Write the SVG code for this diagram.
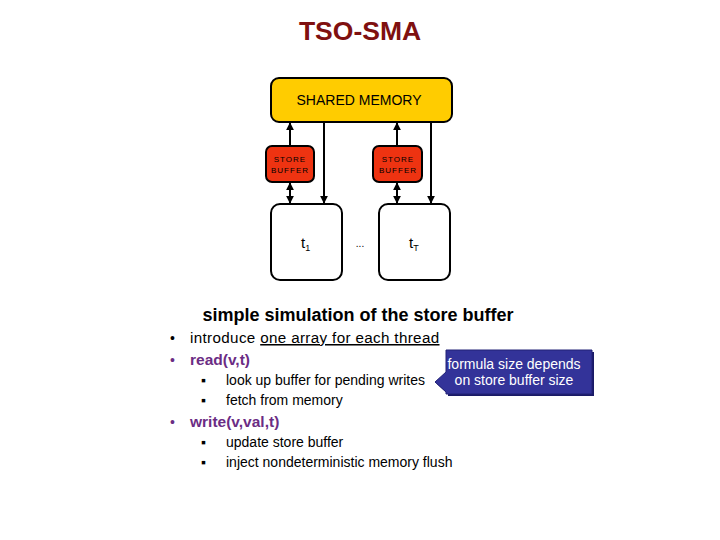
<svg xmlns="http://www.w3.org/2000/svg" width="720" height="540" viewBox="0 0 720 540">
<style>
.t{font-family:"Liberation Sans",Arial,sans-serif}
.box{stroke:#000;stroke-width:2}
.sb{font-family:"Liberation Sans",Arial,sans-serif;font-size:8px;letter-spacing:1px;fill:#000}
.ln{stroke:#000;stroke-width:2;fill:none}
.body{font-family:"Liberation Sans",Arial,sans-serif;font-size:15.2px;letter-spacing:0.35px;fill:#000}
.sub{font-family:"Liberation Sans",Arial,sans-serif;font-size:14px;fill:#000}
.pur{font-family:"Liberation Sans",Arial,sans-serif;font-size:15.5px;font-weight:bold;fill:#6B2C84}
.bul{font-family:"Liberation Sans",Arial,sans-serif;font-size:14px;fill:#6B2C84}
</style>
<defs>
<marker id="ah" viewBox="0 0 10 10" refX="9" refY="5" markerWidth="4" markerHeight="4" orient="auto-start-reverse">
<path d="M0,0 L10,5 L0,10 z" fill="#000"/>
</marker>
</defs>
<rect width="720" height="540" fill="#fff"/>
<text class="t" x="360" y="40" text-anchor="middle" font-size="26.5" font-weight="bold" fill="#7F1010">TSO-SMA</text>

<g id="shared-memory">
<rect class="box" x="271" y="78" width="181" height="44" rx="8" fill="#FFCC00"/>
<text class="t" x="359" y="105" text-anchor="middle" font-size="14" fill="#000">SHARED MEMORY</text>
</g>
<g id="store-buffer-1">
<rect class="box" x="266" y="146" width="48" height="36" rx="6" fill="#EE3311"/>
<text class="sb" x="290" y="162" text-anchor="middle">STORE</text>
<text class="sb" x="290" y="173" text-anchor="middle">BUFFER</text>
</g>
<g id="store-buffer-2">
<rect class="box" x="373" y="146" width="49" height="36" rx="6" fill="#EE3311"/>
<text class="sb" x="398" y="162" text-anchor="middle">STORE</text>
<text class="sb" x="398" y="173" text-anchor="middle">BUFFER</text>
</g>
<g id="thread-1">
<rect class="box" x="271" y="204" width="71" height="76" rx="9" fill="#fff"/>
<text class="t" x="301" y="248" font-size="15" fill="#000">t<tspan font-size="9" dy="3">1</tspan></text>
</g>
<g id="ellipsis">
<text class="t" x="360" y="247" text-anchor="middle" font-size="10" fill="#000">...</text>
</g>
<g id="thread-T">
<rect class="box" x="379" y="204" width="71" height="76" rx="9" fill="#fff"/>
<text class="t" x="409" y="248" font-size="15" fill="#000">t<tspan font-size="9" dy="3">T</tspan></text>
</g>

<g id="connectors">
<line class="ln" x1="290" y1="146" x2="290" y2="123" marker-end="url(#ah)"/>
<line class="ln" x1="324" y1="122" x2="324" y2="203" marker-end="url(#ah)"/>
<line class="ln" x1="290" y1="183" x2="290" y2="203" marker-start="url(#ah)" marker-end="url(#ah)"/>
<line class="ln" x1="397" y1="146" x2="397" y2="123" marker-end="url(#ah)"/>
<line class="ln" x1="431" y1="122" x2="431" y2="203" marker-end="url(#ah)"/>
<line class="ln" x1="397" y1="183" x2="397" y2="203" marker-start="url(#ah)" marker-end="url(#ah)"/>
</g>

<text class="t" x="358" y="321" text-anchor="middle" font-size="18" font-weight="bold" fill="#000">simple simulation of the store buffer</text>

<g id="bullets">
<text class="sub" x="170" y="343">•</text>
<text class="body" x="190" y="343">introduce <tspan text-decoration="underline">one array for each thread</tspan></text>
<text class="bul" x="170" y="365">•</text>
<text class="pur" x="190" y="365">read(v,t)</text>
<text class="sub" x="201" y="385">▪</text>
<text class="sub" x="226" y="385">look up buffer for pending writes</text>
<text class="sub" x="201" y="405">▪</text>
<text class="sub" x="226" y="405">fetch from memory</text>
<text class="bul" x="170" y="427">•</text>
<text class="pur" x="190" y="427">write(v,val,t)</text>
<text class="sub" x="201" y="447">▪</text>
<text class="sub" x="226" y="447">update store buffer</text>
<text class="sub" x="201" y="467">▪</text>
<text class="sub" x="226" y="467">inject nondeterministic memory flush</text>
</g>

<g id="callout">
<path d="M448,352 H594 V396 H448 V394 L437,384 L448,374 Z" fill="#1A1A66"/>
<path d="M446,350 H592 V394 H446 V392 L435,382 L446,372 Z" fill="#333399" stroke="#222277" stroke-width="1"/>
<text class="t" x="514" y="369" text-anchor="middle" font-size="14" fill="#fff">formula size depends</text>
<text class="t" x="514" y="385" text-anchor="middle" font-size="14" fill="#fff">on store buffer size</text>
</g>
</svg>
